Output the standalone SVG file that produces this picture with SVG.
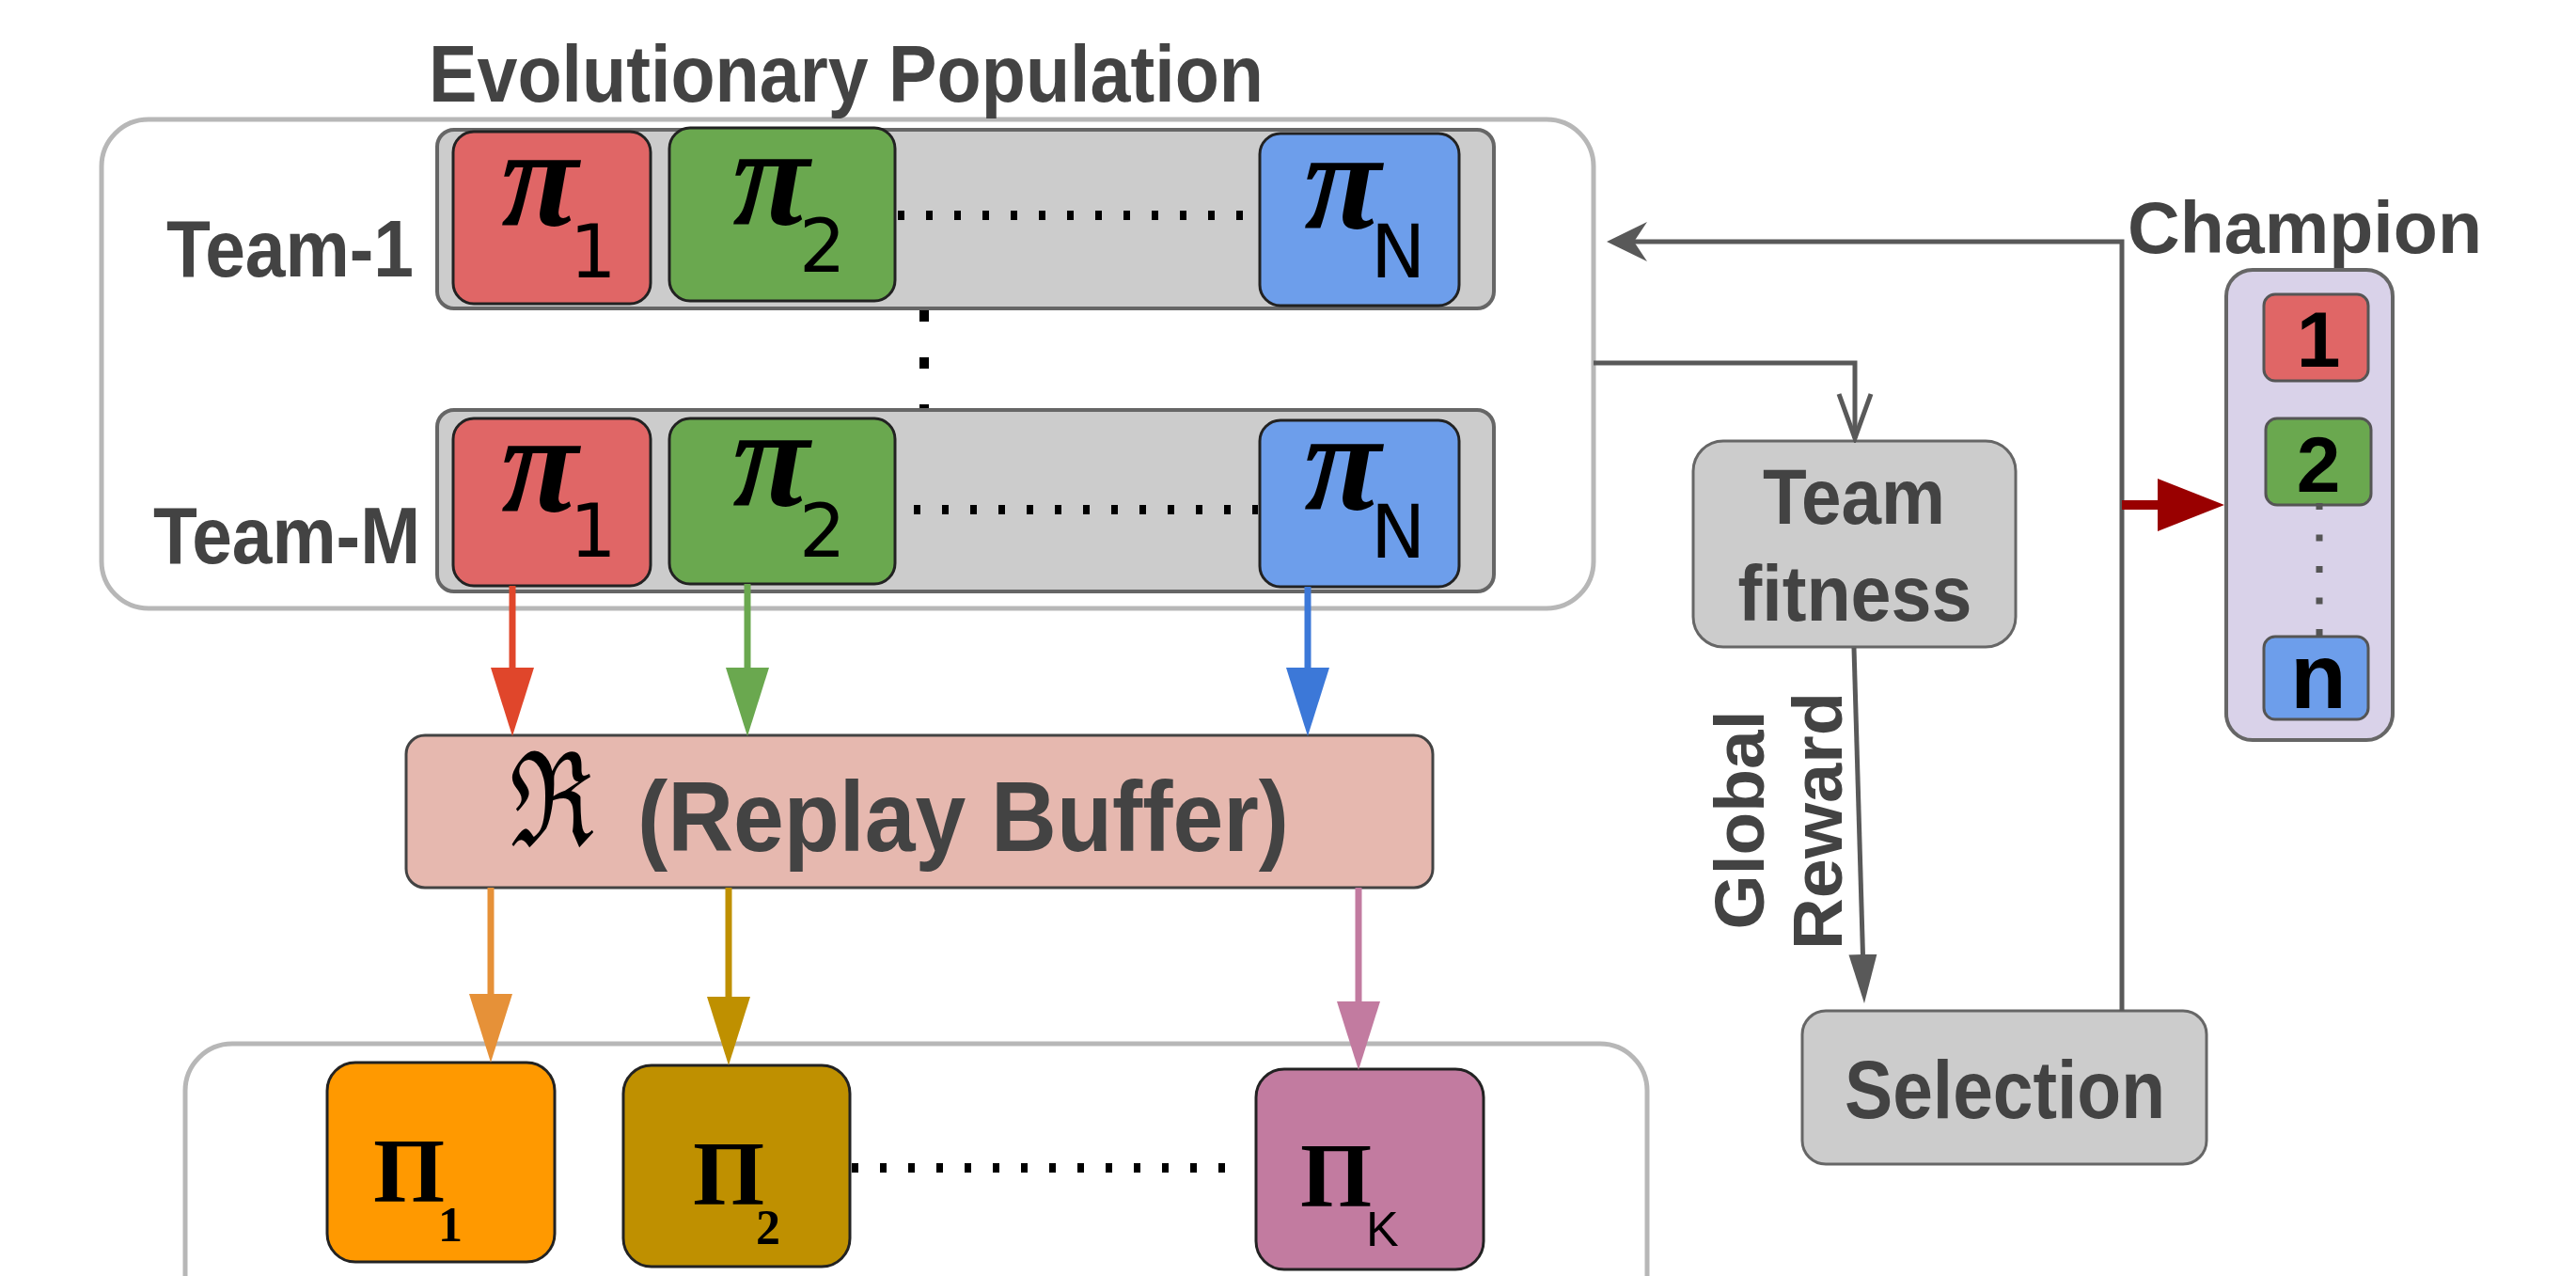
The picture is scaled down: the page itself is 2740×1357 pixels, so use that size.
<svg xmlns="http://www.w3.org/2000/svg" width="2740" height="1357" viewBox="0 0 2740 1357">
<style>
.lbl{font-family:"Liberation Sans",Arial,sans-serif;font-weight:bold;fill:#434343}
.pi{font-family:"Liberation Serif","Times New Roman",serif;font-weight:bold;font-style:italic;fill:#000;font-size:150px}
.sub{font-family:"DejaVu Sans",sans-serif;font-weight:normal;font-style:normal;fill:#000;font-size:78px}
.PI{font-family:"Liberation Serif","Times New Roman",serif;font-weight:bold;fill:#000;font-size:98px}
.PIsub{font-size:52px}
.Ksub{font-family:"Liberation Sans",Arial,sans-serif;font-weight:normal;font-size:52px}
.outer{fill:#fff;stroke:#b7b7b7;stroke-width:5}
.bar{fill:#ccc;stroke:#666;stroke-width:4}
.agent{stroke:#222;stroke-width:3}
.gbox{fill:#ccc;stroke:#666;stroke-width:3}
.num{stroke:#555;stroke-width:3}
.dots{stroke:#000;stroke-width:10;fill:none}
.conn{fill:none;stroke-width:7}
.gray{stroke:#595959;stroke-width:5;fill:none}
.digit{font-family:"Liberation Sans",Arial,sans-serif;font-weight:bold;fill:#000;text-anchor:middle}
</style>
<defs>
<marker id="aRed" markerUnits="userSpaceOnUse" markerWidth="74" markerHeight="46" viewBox="0 0 74 46" refX="10" refY="23" orient="auto"><path d="M0,0 L73,23 L0,46 z" fill="#e0462b"/></marker>
<marker id="aGreen" markerUnits="userSpaceOnUse" markerWidth="74" markerHeight="46" viewBox="0 0 74 46" refX="10" refY="23" orient="auto"><path d="M0,0 L73,23 L0,46 z" fill="#6aa84f"/></marker>
<marker id="aBlue" markerUnits="userSpaceOnUse" markerWidth="74" markerHeight="46" viewBox="0 0 74 46" refX="10" refY="23" orient="auto"><path d="M0,0 L73,23 L0,46 z" fill="#3c78d8"/></marker>
<marker id="aOrange" markerUnits="userSpaceOnUse" markerWidth="74" markerHeight="46" viewBox="0 0 74 46" refX="10" refY="23" orient="auto"><path d="M0,0 L73,23 L0,46 z" fill="#e69138"/></marker>
<marker id="aGold" markerUnits="userSpaceOnUse" markerWidth="74" markerHeight="46" viewBox="0 0 74 46" refX="10" refY="23" orient="auto"><path d="M0,0 L73,23 L0,46 z" fill="#bf9000"/></marker>
<marker id="aPink" markerUnits="userSpaceOnUse" markerWidth="74" markerHeight="46" viewBox="0 0 74 46" refX="10" refY="23" orient="auto"><path d="M0,0 L73,23 L0,46 z" fill="#c27ba0"/></marker>
<marker id="aGray" markerUnits="userSpaceOnUse" markerWidth="53" markerHeight="32" viewBox="0 0 53 32" refX="8" refY="16" orient="auto"><path d="M0,1 L52,16 L0,31 z" fill="#595959"/></marker>
<marker id="aOpen" markerUnits="userSpaceOnUse" markerWidth="56" markerHeight="42" viewBox="-4 -4 56 42" refX="47" refY="17" orient="auto"><path d="M0,0 L47,17 L0,34" fill="none" stroke="#595959" stroke-width="5"/></marker>
<marker id="aBarb" markerUnits="userSpaceOnUse" markerWidth="44" markerHeight="42" viewBox="0 0 44 42" refX="14" refY="21" orient="auto"><path d="M0,0 L43,21 L0,42 L14,21 z" fill="#595959"/></marker>
<marker id="aDark" markerUnits="userSpaceOnUse" markerWidth="72" markerHeight="56" viewBox="0 0 72 56" refX="5" refY="28" orient="auto"><path d="M0,0 L71,28 L0,56 z" fill="#990000"/></marker>
</defs>
<rect width="2740" height="1357" fill="#fff"/>

<g id="evolutionary-population">
<rect class="outer" x="108" y="127" width="1587" height="520" rx="50"/>
<text class="lbl" x="456" y="108" font-size="86" textLength="888" lengthAdjust="spacingAndGlyphs">Evolutionary Population</text>
</g>

<g id="team-1">
<text class="lbl" x="177" y="294" font-size="86" textLength="263" lengthAdjust="spacingAndGlyphs">Team-1</text>
<rect class="bar" x="465" y="138" width="1124" height="190" rx="18"/>
<g id="team1-pi1"><rect class="agent" x="482" y="140" width="210" height="183" rx="22" fill="#e06666"/><text class="pi" x="533" y="240">π<tspan class="sub" x="606" y="295">1</tspan></text></g>
<g id="team1-pi2"><rect class="agent" x="712" y="136" width="240" height="184" rx="22" fill="#6aa84f"/><text class="pi" x="779" y="239">π<tspan class="sub" x="850" y="289">2</tspan></text></g>
<g id="team1-piN"><rect class="agent" x="1340" y="142" width="212" height="183" rx="22" fill="#6d9eeb"/><text class="pi" x="1387" y="243">π<tspan class="sub" x="1458" y="295">N</tspan></text></g>
<line class="dots" x1="955" y1="229" x2="1338" y2="229" stroke-dasharray="7 23"/>
</g>

<line id="team-ellipsis" class="dots" x1="983" y1="330" x2="983" y2="446" stroke-dasharray="12 38"/>

<g id="team-M">
<text class="lbl" x="163" y="599" font-size="86" textLength="284" lengthAdjust="spacingAndGlyphs">Team-M</text>
<rect class="bar" x="465" y="436" width="1124" height="193" rx="18"/>
<g id="teamM-pi1"><rect class="agent" x="482" y="445" width="210" height="178" rx="22" fill="#e06666"/><text class="pi" x="533" y="544">π<tspan class="sub" x="606" y="592">1</tspan></text></g>
<g id="teamM-pi2"><rect class="agent" x="712" y="445" width="240" height="176" rx="22" fill="#6aa84f"/><text class="pi" x="779" y="538">π<tspan class="sub" x="850" y="592">2</tspan></text></g>
<g id="teamM-piN"><rect class="agent" x="1340" y="447" width="212" height="177" rx="22" fill="#6d9eeb"/><text class="pi" x="1387" y="542">π<tspan class="sub" x="1458" y="593">N</tspan></text></g>
<line class="dots" x1="972" y1="542" x2="1338" y2="542" stroke-dasharray="7 23"/>
</g>

<g id="replay-buffer">
<rect x="432" y="782" width="1092" height="162" rx="20" fill="#e6b8af" stroke="#434343" stroke-width="3"/>
<text x="542" y="900" font-family="DejaVu Serif, serif" font-size="140" fill="#000" textLength="90" lengthAdjust="spacingAndGlyphs">ℜ</text>
<text class="lbl" x="678" y="905" font-size="105" textLength="693" lengthAdjust="spacingAndGlyphs">(Replay Buffer)</text>
</g>

<g id="learners">
<rect class="outer" x="197" y="1110" width="1555" height="320" rx="50"/>
<g id="Pi1"><rect class="agent" x="348" y="1130" width="242" height="212" rx="30" fill="#ff9900"/><text class="PI" x="397" y="1278">Π<tspan class="PIsub" x="466" y="1320">1</tspan></text></g>
<g id="Pi2"><rect class="agent" x="663" y="1133" width="241" height="214" rx="30" fill="#bf9000"/><text class="PI" x="737" y="1281">Π<tspan class="PIsub" x="804" y="1323">2</tspan></text></g>
<g id="PiK"><rect class="agent" x="1336" y="1137" width="242" height="213" rx="30" fill="#c27ba0"/><text class="PI" x="1383" y="1283">Π<tspan class="Ksub" x="1453" y="1325">K</tspan></text></g>
<line class="dots" x1="906" y1="1242" x2="1323" y2="1242" stroke-dasharray="7 23"/>
</g>

<g id="team-fitness">
<rect class="gbox" x="1801" y="469" width="343" height="219" rx="32"/>
<text class="lbl" x="1972" y="557" font-size="84" text-anchor="middle" textLength="194" lengthAdjust="spacingAndGlyphs">Team</text>
<text class="lbl" x="1973" y="660" font-size="84" text-anchor="middle" textLength="249" lengthAdjust="spacingAndGlyphs">fitness</text>
</g>

<g id="selection">
<rect class="gbox" x="1917" y="1075" width="430" height="163" rx="25"/>
<text class="lbl" x="1962" y="1189" font-size="88" textLength="341" lengthAdjust="spacingAndGlyphs">Selection</text>
</g>

<g id="champion">
<text class="lbl" x="2263" y="269" font-size="78" textLength="377" lengthAdjust="spacingAndGlyphs">Champion</text>
<rect x="2368" y="287" width="177" height="500" rx="28" fill="#d9d2e9" stroke="#666" stroke-width="4"/>
<rect class="num" x="2408" y="313" width="111" height="92" rx="12" fill="#e06666"/>
<text class="digit" x="2466" y="390" font-size="84">1</text>
<rect class="num" x="2410" y="445" width="112" height="92" rx="12" fill="#6aa84f"/>
<text class="digit" x="2466" y="523" font-size="84">2</text>
<line x1="2467" y1="535" x2="2467" y2="677" stroke="#555" stroke-width="7" stroke-dasharray="7 26.5"/>
<rect class="num" x="2408" y="677" width="111" height="88" rx="12" fill="#6d9eeb"/>
<text class="digit" x="2466" y="753" font-size="98">n</text>
</g>

<g id="connectors">
<line class="conn" stroke="#e0462b" x1="545" y1="623" x2="545" y2="720" marker-end="url(#aRed)"/>
<line class="conn" stroke="#6aa84f" x1="795" y1="621" x2="795" y2="720" marker-end="url(#aGreen)"/>
<line class="conn" stroke="#3c78d8" x1="1391" y1="624" x2="1391" y2="720" marker-end="url(#aBlue)"/>
<line class="conn" stroke="#e69138" x1="522" y1="944" x2="522" y2="1067" marker-end="url(#aOrange)"/>
<line class="conn" stroke="#bf9000" x1="775" y1="944" x2="775" y2="1070" marker-end="url(#aGold)"/>
<line class="conn" stroke="#c27ba0" x1="1445" y1="944" x2="1445" y2="1075" marker-end="url(#aPink)"/>
<polyline class="gray" points="1695,386 1973,386 1973,466" marker-end="url(#aOpen)"/>
<line class="gray" x1="1972" y1="689" x2="1981.7" y2="1023" marker-end="url(#aGray)"/>
<polyline class="gray" points="2257,1075 2257,257 1738,257" marker-end="url(#aBarb)"/>
<line x1="2257" y1="537" x2="2300" y2="537" stroke="#990000" stroke-width="10" marker-end="url(#aDark)"/>
<text class="lbl" font-size="74" text-anchor="middle" transform="translate(1876,872) rotate(-90)" textLength="233" lengthAdjust="spacingAndGlyphs">Global</text>
<text class="lbl" font-size="74" text-anchor="middle" transform="translate(1959,873) rotate(-90)" textLength="274" lengthAdjust="spacingAndGlyphs">Reward</text>
</g>
</svg>
